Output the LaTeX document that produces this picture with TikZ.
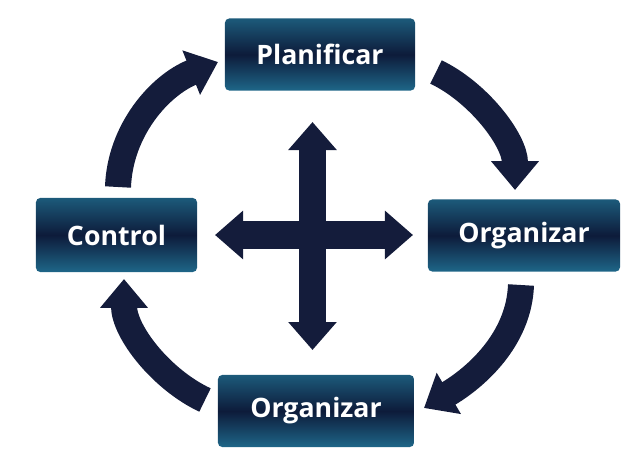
\documentclass[tikz,border=0pt]{standalone}
\usepackage{fontspec}
\setmainfont{Open Sans}
\usepackage{tikz}
\usetikzlibrary{arrows.meta}
\definecolor{navy}{RGB}{20,28,59}
\definecolor{boxtop}{RGB}{28,90,122}
\definecolor{boxmid}{RGB}{13,27,58}
\definecolor{boxbot}{RGB}{30,102,136}

\begin{document}
\begin{tikzpicture}[x=0.025cm,y=-0.025cm,
    paso/.style={rounded corners=3pt,top color=boxtop,bottom color=boxbot,middle color=boxmid,
      text=white,font=\bfseries\fontsize{19}{22}\selectfont,minimum height=1.8cm,inner sep=0pt},
    ciclo/.style={navy,line width=0.65cm,-{Triangle[width=1.15cm,length=0.72cm]}},
    cruz/.style={navy,line width=0.68cm,{Triangle[width=1.17cm,length=0.7cm]}-{Triangle[width=1.17cm,length=0.7cm]}}]
    \useasboundingbox (0,0) rectangle (640,463);
    \node[paso,minimum width=4.75cm] (plan) at (320,54.5) {Planificar};
    \node[paso,minimum width=4.025cm,minimum height=1.85cm] (ctrl) at (116.5,235) {Control};
    \node[paso,minimum width=4.8cm] (orgd) at (524,235.5) {Organizar};
    \node[paso,minimum width=4.9cm] (orgb) at (316,411) {Organizar};
    % ends of the ring arrows
    \coordinate (t1) at (118,187);
    \coordinate (h1) at (218,62);
    \coordinate (t2) at (436,72);
    \coordinate (h2) at (515,190);
    \coordinate (t3) at (521,285);
    \coordinate (h3) at (424,408);
    \coordinate (t4) at (205,400);
    \coordinate (h4) at (124,279);
    \draw[ciclo] (t1) .. controls (120,130) and (160,85) .. (h1);
    \draw[ciclo] (t2) .. controls (478,92) and (515,140) .. (h2);
    \draw[ciclo] (t3) .. controls (519,340) and (475,378) .. (h3);
    \draw[ciclo] (t4) .. controls (162,380) and (124,332) .. (h4);
    % cross
    \coordinate (arr) at (312.5,122);
    \coordinate (abj) at (312.5,350);
    \coordinate (izq) at (215,235);
    \coordinate (der) at (413,235);
    \draw[cruz] (arr) -- (abj);
    \draw[cruz] (izq) -- (der);
\end{tikzpicture}
\end{document}
